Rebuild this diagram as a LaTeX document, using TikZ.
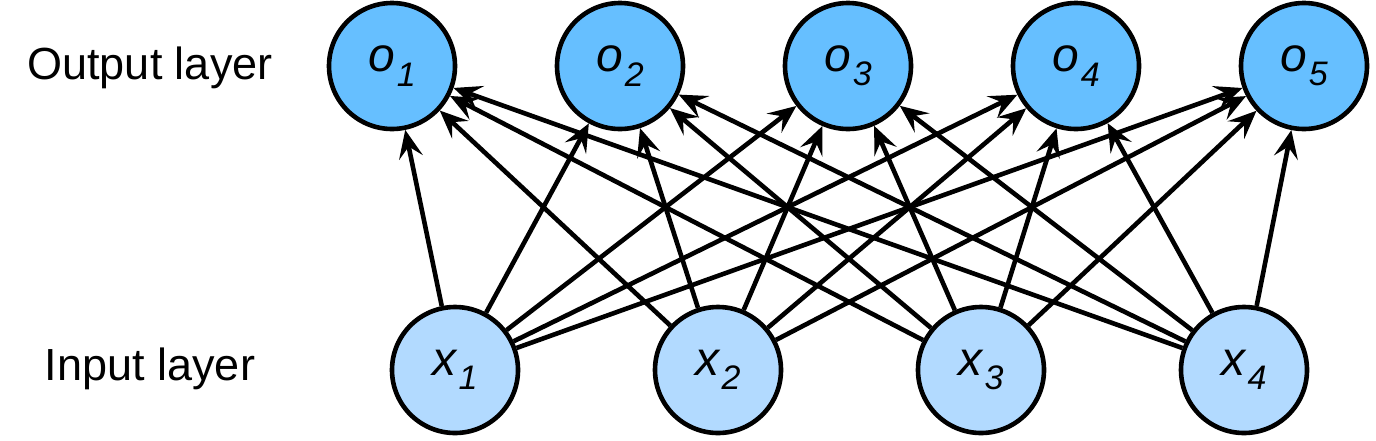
\documentclass[tikz,border=0pt]{standalone}
\usepackage{fontspec}
\setmainfont{Liberation Sans}
\usetikzlibrary{arrows.meta}
\definecolor{outfill}{RGB}{102,191,255}
\definecolor{infill}{RGB}{178,218,255}
\newcommand{\nlbl}[2]{\fontsize{24pt}{26pt}\selectfont\itshape #1\hspace{0.04em}\raisebox{-0.3em}{\fontsize{17pt}{19pt}\selectfont #2}}
\begin{document}
\begin{tikzpicture}[x=0.5pt,y=-0.5pt,
  neuron/.style={circle,draw=black,line width=2.3pt,minimum size=63pt,inner sep=0pt},
  outn/.style={neuron,fill=outfill},
  inn/.style={neuron,fill=infill},
  layerlbl/.style={font=\fontsize{22.5pt}{24pt}\selectfont,inner sep=0pt},
  conn/.style={line width=2.3pt,-{Stealth[length=14pt,width=12pt,inset=5.5pt]}}]
\useasboundingbox (0,0) rectangle (1376,440);
\node[layerlbl] (outlbl) at (150,68) {Output layer};
\node[layerlbl] (inlbl) at (150,369) {Input layer};
\foreach \i/\x in {1/392,2/620,3/848,4/1076,5/1304}{
  \node[outn] (o\i) at (\x,66) {\nlbl{o}{\i}};
}
\foreach \i/\x in {1/455,2/718,3/981,4/1244}{
  \node[inn] (x\i) at (\x,370) {\nlbl{x}{\i}};
}
\foreach \i in {1,...,4}{
  \foreach \j in {1,...,5}{
    \draw[conn] (x\i) -- (o\j);
  }
}
\end{tikzpicture}
\end{document}
